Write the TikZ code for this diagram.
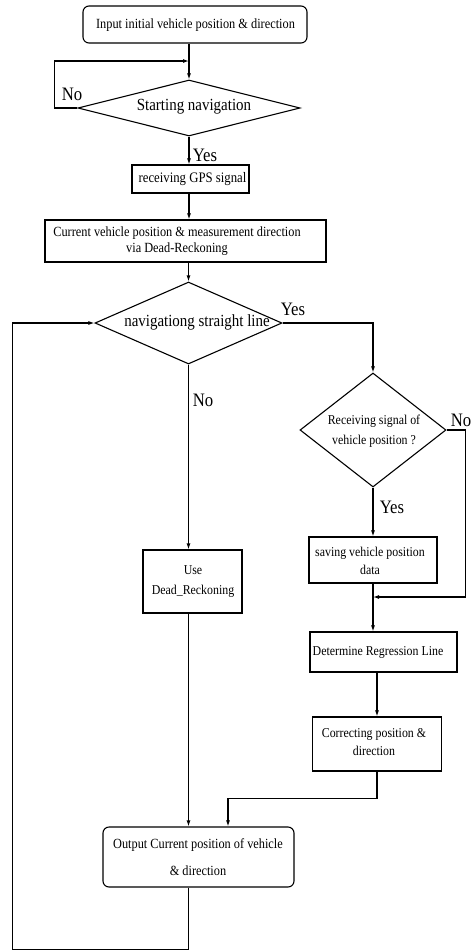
\documentclass[tikz,border=0pt]{standalone}
\usepackage{fontspec}
\setmainfont{Liberation Serif}[FakeStretch=0.88]
\usetikzlibrary{arrows.meta,shapes.geometric}
\begin{document}
\begin{tikzpicture}[x=1pt,y=-1pt,
  line width=1.1pt,
  arr/.style={-{Latex[length=6pt,width=4pt]}},
  box/.style={draw, rectangle, inner sep=0pt},
  rbox/.style={draw, rectangle, rounded corners=6pt, inner sep=0pt},
  dia/.style={draw, diamond, inner sep=0pt},
  txt/.style={inner sep=0pt, align=center},
  lab/.style={inner sep=0pt, font=\fontsize{19}{19}\selectfont}]
\useasboundingbox (0,0) rectangle (473,951);

% shapes
\node[rbox, minimum width=224pt, minimum height=37pt] (start) at (195,24.5) {};
\node[dia, minimum width=222pt, minimum height=56pt] (d1) at (189,108) {};
\node[box, minimum width=117pt, minimum height=28pt] (gps) at (190.5,179) {};
\node[box, minimum width=281pt, minimum height=42pt] (cur) at (185.5,241) {};
\node[dia, minimum width=187pt, minimum height=82pt] (d2) at (188.5,323) {};
\node[dia, minimum width=146pt, minimum height=114pt] (d3) at (373,430) {};
\node[box, minimum width=99pt, minimum height=63pt] (use) at (192.5,581.5) {};
\node[box, minimum width=128pt, minimum height=46pt] (save) at (373,560) {};
\node[box, minimum width=147pt, minimum height=40pt] (det) at (383.5,652) {};
\node[box, minimum width=129pt, minimum height=54pt] (cor) at (377,744) {};
\node[rbox, minimum width=191pt, minimum height=60pt] (out) at (198.5,857) {};

% texts
\node[txt, font=\fontsize{14}{16}\selectfont] (start-t) at (195.5,25) {Input initial vehicle position \& direction};
\node[txt, font=\fontsize{17}{17}\selectfont] (d1-t) at (194,107) {Starting navigation};
\node[txt, font=\fontsize{14.5}{16}\selectfont] (gps-t) at (192.5,179) {receiving GPS signal};
\node[txt, font=\fontsize{14}{16}\selectfont] (cur-t) at (177,241) {Current vehicle position \& measurement direction\\via Dead-Reckoning};
\node[txt, font=\fontsize{17}{17}\selectfont] (d2-t) at (197,322) {navigationg straight line};
\node[txt, font=\fontsize{13.5}{20}\selectfont] (d3-t) at (374,431) {Receiving signal of\\vehicle position ?};
\node[txt, font=\fontsize{13.5}{20}\selectfont] (use-t) at (193,582) {Use\\Dead\_Reckoning};
\node[txt, font=\fontsize{13.5}{18}\selectfont] (save-t) at (370,561) {saving vehicle position\\data};
\node[txt, font=\fontsize{13.5}{16}\selectfont] (det-t) at (378,652) {Determine Regression Line};
\node[txt, font=\fontsize{13.5}{18}\selectfont] (cor-t) at (374,742) {Correcting position \&\\direction};
\node[txt, font=\fontsize{14}{27}\selectfont] (out-t) at (198,857) {Output Current position of vehicle\\\& direction};

% labels
\node[lab] (no1) at (72,94) {No};
\node[lab] (yes1) at (205,155) {Yes};
\node[lab] (yes2) at (293,309) {Yes};
\node[lab] (no2) at (203,400) {No};
\node[lab] (no3) at (461,420) {No};
\node[lab] (yes3) at (392,507) {Yes};

% connectors
\coordinate (m1) at (189,61);
\coordinate (m2) at (373,597);
\draw[arr] (start.south -| d1.north) -- (d1.north);
\draw[arr] (d1.west) -- ++(-23,0) |- (m1);
\draw[arr] (d1.south) -- (d1.south |- gps.north);
\draw[arr] (d1.south |- gps.south) -- (d1.south |- cur.north);
\draw[arr] (d2.north |- cur.south) -- (d2.north);
\draw[arr] (d2.east) -| (d3.north);
\draw[arr] (d2.south) -- (d2.south |- use.north);
\draw[arr] (d3.south) -- (save.north);
\draw[arr] (d3.east) -- ++(19,0) |- (m2);
\draw[arr] (save.south) -- (save.south |- det.north);
\draw[arr] (det.south -| cor.north) -- (cor.north);
\draw[arr] (cor.south) -- ++(0,27) -| ([xshift=29.5pt]out.north);
\draw[arr] (d2.south |- use.south) -- (d2.south |- out.north);
\draw[arr] (d2.south |- out.south) -- ++(0,62) -| ([xshift=-82pt]d2.west) -- (d2.west);
\end{tikzpicture}
\end{document}
